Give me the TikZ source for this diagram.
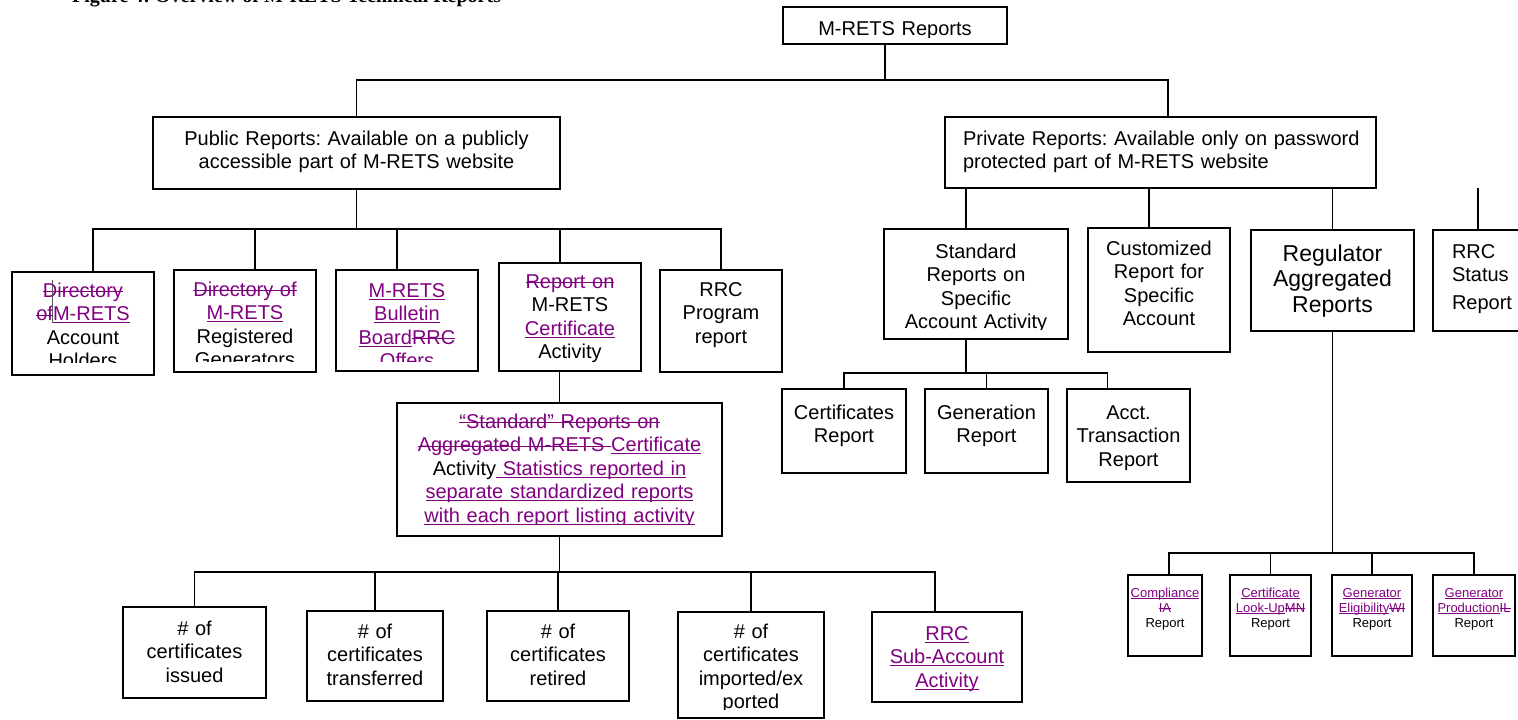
\documentclass[tikz,border=0pt]{standalone}
\usepackage{fontspec}
\setmainfont{Liberation Sans}
\newfontfamily\titlefont{Liberation Serif}
\usepackage{tikz}
\frenchspacing

\definecolor{rev}{HTML}{800080}
% inserted text: underlined, deleted text: struck out
\newcommand{\addtxt}[1]{\leavevmode{\color{rev}\setbox0\hbox{#1}\rlap{\rule[-0.13em]{\wd0}{0.055em}}\box0}}
\newcommand{\deltxt}[1]{\leavevmode{\color{rev}\setbox0\hbox{#1}\rlap{\rule[0.24em]{\wd0}{0.055em}}\box0}}

\tikzset{
    box/.style = {
        shape=rectangle,
        draw,
        line width=1.2pt,
        inner sep=0pt,
        outer sep=0pt},
    boxtext/.style = {
        anchor=north,
        inner sep=0pt,
        text width=400pt,
        align=center,
        font=\fontsize{20}{23.5}\selectfont},
    bigtext/.style = {
        boxtext,
        font=\fontsize{23}{25.5}\selectfont},
    smalltext/.style = {
        boxtext,
        font=\fontsize{13}{15}\selectfont},
    privtext/.style = {
        boxtext,
        text width=420pt,
        xshift=12.5pt,
        align=left},
    statustext/.style = {
        boxtext,
        text width=62pt,
        align=left},
    conn/.style = {
        draw,
        line width=1.2pt}
}

% box with its text cut off below a given line
% [text style]{name}{x1}{y1}{x2}{y2}{clip y}{text top}{text}
\newcommand{\repbox}[9][boxtext]{%
    \node[box, minimum width={(#5-#3)*1pt}, minimum height={(#6-#4)*1pt}]
        (#2) at ({(#3+#5)/2},{(#4+#6)/2}) {};
    \begin{scope}
        \clip (#3,#4) rectangle (#5,#7);
        \node[#1] (#2-t) at ({(#3+#5)/2},#8) {\strut#9};
    \end{scope}}

\begin{document}
\begin{tikzpicture}[
    x = 1pt,
    y = -1pt
]
\useasboundingbox (0,0) rectangle (1518,720);

\node[font=\titlefont\bfseries\fontsize{20}{24}\selectfont, anchor=base west, inner sep=0pt]
    (title) at (72,2) {Figure 4: Overview of M-RETS Technical Reports};

% top levels
\repbox{root}{783}{7}{1007}{44}{37}{18.5}{M-RETS Reports}
\repbox{pub}{153}{117}{560}{189}{189}{128.5}{Public Reports: Available on a publicly\\accessible part of M-RETS website}
\repbox[privtext]{priv}{945}{117}{1376}{188}{188}{128.5}{Private Reports: Available only on password\\protected part of M-RETS website}

% public reports
\repbox{dir1}{12}{272}{154}{375}{362}{280.5}{\deltxt{Directory}\\\deltxt{of}\addtxt{M-RETS}\\Account\\Holders}
\repbox{dir2}{174}{270}{316}{372}{361}{279.5}{\deltxt{Directory of}\\\addtxt{M-RETS}\\Registered\\Generators}
\repbox{bull}{336}{270}{478}{371}{361}{280.5}{\addtxt{M-RETS}\\\addtxt{Bulletin}\\\addtxt{Board}\deltxt{RRC}\\\deltxt{Offers}}
\repbox{repon}{499}{263}{641}{371}{364}{271.5}{\deltxt{Report on}\\M-RETS\\\addtxt{Certificate}\\Activity}
\repbox{rrcp}{660}{270}{782}{372}{372}{279.5}{RRC\\Program\\report}
\draw[gray!70!black, line width=1pt] (52,280) -- (52,323);

\repbox{agg}{397}{403}{722}{536}{524}{411.5}{\deltxt{“Standard” Reports on}\\\deltxt{Aggregated M-RETS }\addtxt{Certificate}\\Activity\addtxt{ Statistics reported in}\\\addtxt{separate standardized reports}\\\addtxt{with each report listing activity}}

\repbox{iss}{123}{607}{266}{698}{698}{618.5}{\# of\\certificates\\issued}
\repbox{trans}{307}{611}{443}{701}{701}{621.5}{\# of\\certificates\\transferred}
\repbox{ret}{487}{611}{629}{701}{701}{621.5}{\# of\\certificates\\retired}
\repbox{impt}{678}{612}{824}{718}{709}{621.5}{\# of\\certificates\\imported/ex\\ported}
\repbox{subacc}{872}{612}{1022}{702}{702}{623.5}{\addtxt{RRC}\\\addtxt{Sub-Account}\\\addtxt{Activity}}

% private reports
\repbox{std}{884}{229}{1068}{339}{329}{241.5}{Standard\\Reports on\\Specific\\Account Activity}
\repbox{cust}{1088}{228}{1230}{352}{352}{238.5}{Customized\\Report for\\Specific\\Account}
\repbox[bigtext]{reg}{1251}{230}{1414}{331}{331}{243}{Regulator\\Aggregated\\Reports}
\repbox[statustext]{rrcs}{1433}{230}{1533}{331}{331}{241.5}{RRC\\Status\\[4.5pt]Report}

\repbox{certr}{782}{389}{906}{473}{473}{402.5}{Certificates\\Report}
\repbox{genr}{925}{389}{1048}{473}{473}{402.5}{Generation\\Report}
\repbox{acctr}{1067}{389}{1190}{482}{482}{402.5}{Acct.\\Transaction\\Report}

\repbox[smalltext]{comp}{1128}{575}{1202}{656}{656}{586.5}{\addtxt{Compliance}\\\deltxt{IA}\\Report}
\repbox[smalltext]{look}{1230}{575}{1311}{656}{656}{586.5}{\addtxt{Certificate}\\\addtxt{Look-Up}\deltxt{MN}\\Report}
\repbox[smalltext]{elig}{1332}{575}{1412}{656}{656}{586.5}{\addtxt{Generator}\\\addtxt{Eligibility}\deltxt{WI}\\Report}
\repbox[smalltext]{prod}{1433}{575}{1515}{656}{656}{586.5}{\addtxt{Generator}\\\addtxt{Production}\deltxt{IL}\\Report}

% connectors
\coordinate (rbar) at ([xshift=-10pt,yshift=-36pt]root.south);
\draw[conn] ([xshift=-10pt]root.south) -- (rbar);
\draw[conn] (pub.north) |- (rbar);
\draw[conn] ([xshift=7.5pt]priv.north) |- (rbar);

\coordinate (pbar) at ([yshift=-40pt]pub.south);
\draw[conn] (pub.south) -- (pbar);
\foreach \n/\dx in {dir1/10, dir2/10, bull/-10, repon/-10, rrcp/0}
    \draw[conn] (\n.north) ++(\dx,0) |- (pbar);

\draw[conn] (agg.north) -- (agg.north |- repon.south);
\coordinate (abar) at ([yshift=-36pt]agg.south);
\draw[conn] (agg.south) -- (abar);
\foreach \n/\dx in {iss/0, trans/0, ret/0, impt/0, subacc/-12}
    \draw[conn] (\n.north) ++(\dx,0) |- (abar);

\foreach \n/\dx in {std/-10, cust/-10, reg/0}
    \draw[conn] (\n.north) ++(\dx,0) |- (priv.south);
\draw[conn] (rrcs.north) ++(-5,0) -- ++(0,-42);

\coordinate (sbar) at ([xshift=-10pt,yshift=-34pt]std.south);
\draw[conn] ([xshift=-10pt]std.south) -- (sbar);
\foreach \n/\dx in {certr/0, genr/0, acctr/-21}
    \draw[conn] (\n.north) ++(\dx,0) |- (sbar);

\coordinate (gbar) at ([yshift=-222pt]reg.south);
\draw[conn] (reg.south) -- (gbar);
\foreach \n/\dx in {comp/4, look/0, elig/0, prod/0}
    \draw[conn] (\n.north) ++(\dx,0) |- (gbar);

\end{tikzpicture}
\end{document}
